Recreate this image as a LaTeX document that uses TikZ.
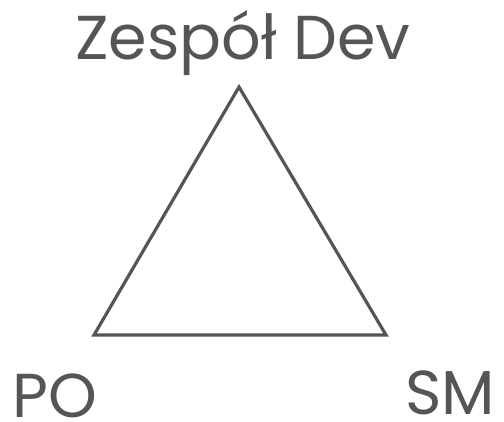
\documentclass[tikz,border=0pt]{standalone}
\usepackage{fontspec}
\setmainfont{Poppins}
\definecolor{ink}{HTML}{555555}
\begin{document}
\begin{tikzpicture}[x=1pt,y=1pt,
  role/.style={text=ink,font=\fontsize{62}{62}\selectfont,inner sep=0pt,anchor=base},
  corner/.style={role,text depth=0pt},
  edge/.style={draw=ink,line width=3.2pt,line join=miter}]
\useasboundingbox (0,0) rectangle (504,422);
\coordinate (top) at (239,335);
\coordinate (left) at (94,87);
\coordinate (right) at (386,87);
\draw[edge] (top) -- (left) -- (right) -- cycle;
\node[role] (dev) at (243,362) {Zespół Dev};
\node[corner,anchor=base west] (po) at (12,4) {PO};
\node[corner,anchor=base east] (sm) at (495,7) {SM};
\end{tikzpicture}
\end{document}
